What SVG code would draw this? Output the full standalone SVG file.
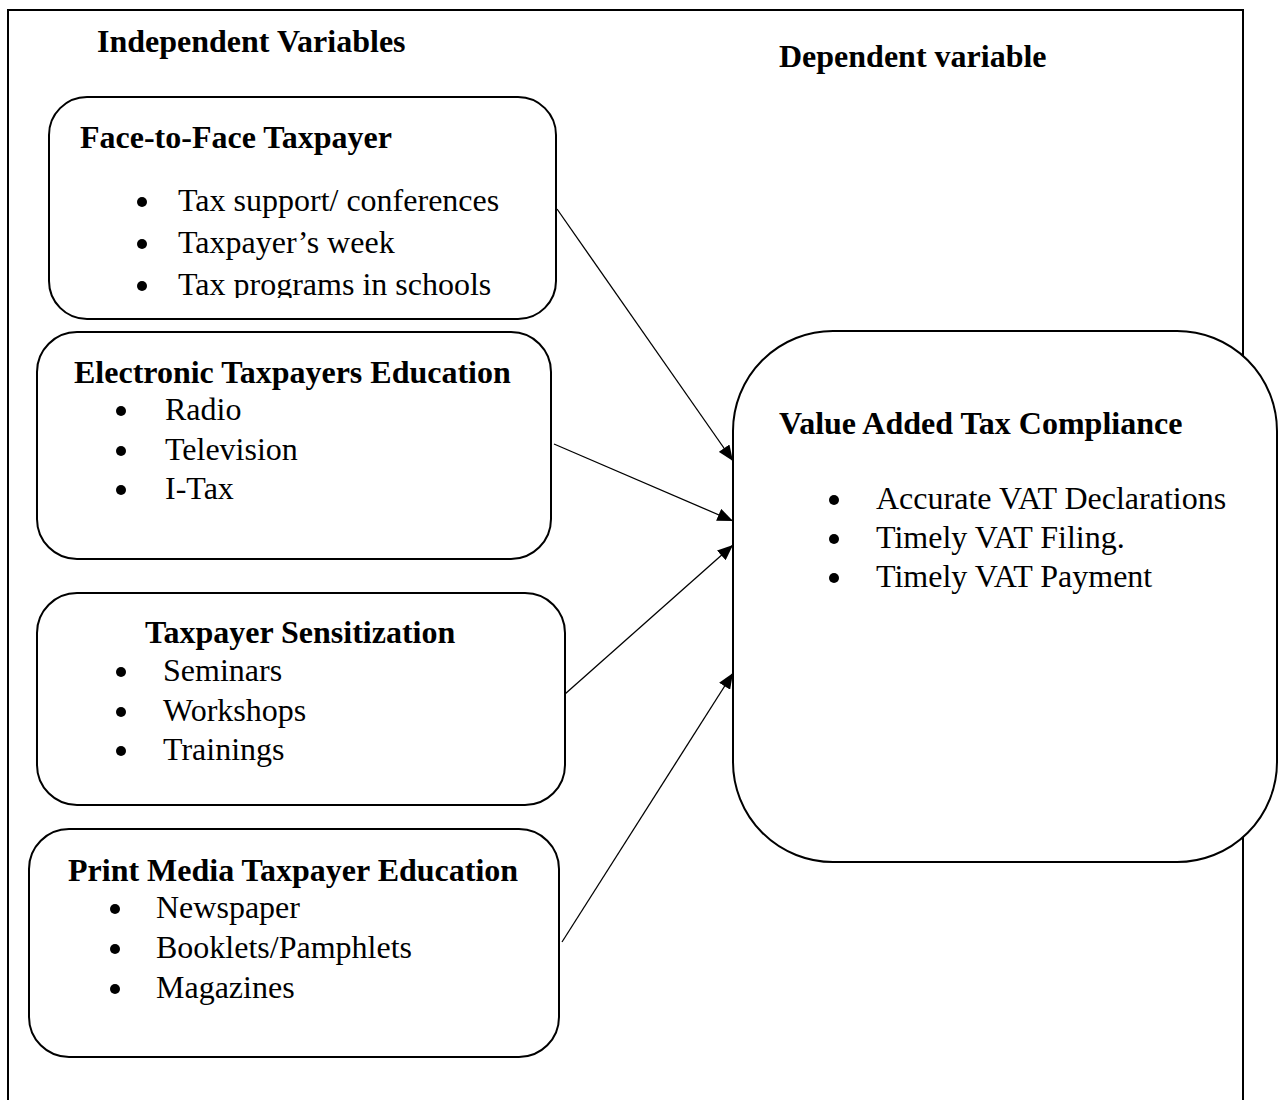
<svg xmlns="http://www.w3.org/2000/svg" width="1278" height="1100" viewBox="0 0 1278 1100">
<defs>
<style>
.frame{fill:none;stroke:#000;stroke-width:2}
.box{fill:#fff;stroke:#000;stroke-width:2}
.h{font-family:"Liberation Serif","Times New Roman",serif;font-weight:bold;font-size:32px;fill:#000}
.t{font-family:"Liberation Serif","Times New Roman",serif;font-size:32px;fill:#000}
.conn{stroke:#000;stroke-width:1.3;fill:none;marker-end:url(#ah)}
.dot{fill:#000}
</style>
<marker id="ah" viewBox="0 0 12 10" refX="12" refY="5" markerWidth="16" markerHeight="13" markerUnits="userSpaceOnUse" orient="auto">
<path d="M0,0 L12,5 L0,10 z" fill="#000"/>
</marker>
<clipPath id="c1"><rect x="0" y="0" width="1278" height="298"/></clipPath>
</defs>
<rect width="1278" height="1100" fill="#fff"/>
<path class="frame" d="M8,1100 V10 H1243 V1100"/>
<text class="h" x="97" y="52">Independent Variables</text>
<text class="h" x="779" y="67">Dependent variable</text>

<g id="face-to-face">
<rect class="box" x="49" y="97" width="507" height="222" rx="38"/>
<text class="h" x="80" y="148">Face-to-Face Taxpayer</text>
<circle class="dot" cx="142" cy="202" r="5"/>
<text class="t" x="178" y="211">Tax support/ conferences</text>
<circle class="dot" cx="142" cy="244" r="5"/>
<text class="t" x="178" y="253">Taxpayer’s week</text>
<g clip-path="url(#c1)">
<circle class="dot" cx="142" cy="286" r="5"/>
<text class="t" x="178" y="295">Tax programs in schools</text>
</g>
</g>

<g id="electronic">
<rect class="box" x="37" y="332" width="514" height="227" rx="40"/>
<text class="h" x="74" y="383">Electronic Taxpayers Education</text>
<circle class="dot" cx="121" cy="411" r="5"/>
<text class="t" x="165" y="420">Radio</text>
<circle class="dot" cx="121" cy="451" r="5"/>
<text class="t" x="165" y="460">Television</text>
<circle class="dot" cx="121" cy="490" r="5"/>
<text class="t" x="165" y="499">I-Tax</text>
</g>

<g id="sensitization">
<rect class="box" x="37" y="593" width="528" height="212" rx="40"/>
<text class="h" x="145" y="643">Taxpayer Sensitization</text>
<circle class="dot" cx="121" cy="672" r="5"/>
<text class="t" x="163" y="681">Seminars</text>
<circle class="dot" cx="121" cy="712" r="5"/>
<text class="t" x="163" y="721">Workshops</text>
<circle class="dot" cx="121" cy="751" r="5"/>
<text class="t" x="163" y="760">Trainings</text>
</g>

<g id="print-media">
<rect class="box" x="29" y="829" width="530" height="228" rx="40"/>
<text class="h" x="68" y="881">Print Media Taxpayer Education</text>
<circle class="dot" cx="115" cy="909" r="5"/>
<text class="t" x="156" y="918">Newspaper</text>
<circle class="dot" cx="115" cy="949" r="5"/>
<text class="t" x="156" y="958">Booklets/Pamphlets</text>
<circle class="dot" cx="115" cy="989" r="5"/>
<text class="t" x="156" y="998">Magazines</text>
</g>

<g id="vat-compliance">
<rect class="box" x="733" y="331" width="544" height="531" rx="100"/>
<text class="h" x="779" y="434">Value Added Tax Compliance</text>
<circle class="dot" cx="834" cy="500" r="5"/>
<text class="t" x="876" y="509">Accurate VAT Declarations</text>
<circle class="dot" cx="834" cy="539" r="5"/>
<text class="t" x="876" y="548">Timely VAT Filing.</text>
<circle class="dot" cx="834" cy="578" r="5"/>
<text class="t" x="876" y="587">Timely VAT Payment</text>
</g>

<g id="connectors">
<line class="conn" x1="557" y1="209" x2="733" y2="461"/>
<line class="conn" x1="554" y1="444" x2="733" y2="521"/>
<line class="conn" x1="565" y1="694" x2="733" y2="545"/>
<line class="conn" x1="562" y1="942" x2="733" y2="673"/>
</g>
</svg>
